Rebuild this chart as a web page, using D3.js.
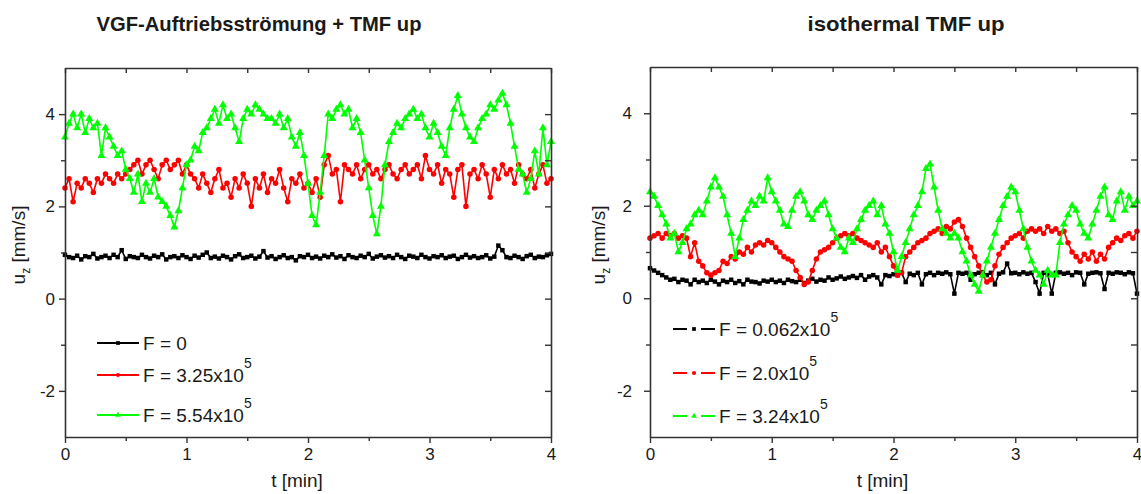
<!DOCTYPE html>
<html>
<head>
<meta charset="utf-8">
<script src="https://cdn.jsdelivr.net/npm/d3@7"></script>
<style>
  body { margin: 0; background: #fff; }
  text { font-family: "Liberation Sans", Arial, sans-serif; fill: #1a1a1a; }
</style>
</head>
<body>
<script>
// samples every 2 s over 4 minutes
const sampleStep = 2 / 60;
const tMin = d3.range(121).map(i => i * sampleStep);

const xTicks = [0, 1, 2, 3, 4];
const xMinor = [0.5, 1.5, 2.5, 3.5];
const yTicks = [-2, 0, 2, 4];
const yMinor = [-1, 1, 3];

const titles = ["VGF-Auftriebsströmung + TMF up", "isothermal TMF up"];
const vgfLegend = ["F = 0", "F = 3.25x10", "F = 5.54x10"];
const vgfLegendExp = ["", "5", "5"];
const isoLegend = ["F = 0.062x10", "F = 2.0x10", "F = 3.24x10"];
const isoLegendExp = ["5", "5", "5"];

// left panel: VGF buoyancy flow + TMF up, u_z [mm/s]
const vgfBlack = [
  0.95, 0.9, 0.88, 0.93, 0.85, 0.92, 0.9, 0.97, 0.87, 0.9,
  0.93, 0.88, 0.95, 0.9, 1.05, 0.86, 0.92, 0.9, 0.88, 0.95,
  0.9, 0.87, 0.93, 0.9, 0.96, 0.85, 0.9, 0.92, 0.88, 0.94,
  0.9, 0.86, 0.93, 0.89, 0.95, 1.0, 0.88, 0.91, 0.87, 0.93,
  0.9, 0.85, 0.92, 0.96, 0.88, 0.9, 0.93, 0.87, 0.91, 1.03,
  0.89, 0.92, 0.86, 0.9, 0.94, 0.88, 0.9, 0.83, 0.92, 0.9,
  0.95, 0.88, 0.91, 0.87, 0.93, 0.9, 0.96, 0.89, 0.92, 0.86,
  0.94, 0.9, 0.88, 0.93, 0.9, 0.97, 0.87, 0.91, 0.94, 0.89,
  0.92, 0.88, 0.95, 0.9, 0.86, 0.93, 0.91, 0.88, 0.95, 0.9,
  0.87, 0.92, 0.9, 0.94, 0.88, 0.91, 0.93, 0.86, 0.9, 0.95,
  0.89, 0.92, 0.88, 0.9, 0.94, 0.87, 0.91, 1.15, 1.05, 0.9,
  0.88, 0.93, 0.9, 0.86, 0.92, 0.95, 0.88, 0.91, 0.9, 0.94,
  0.97
];
const vgfRed = [
  2.4, 2.6, 2.1, 2.5, 2.4, 2.6, 2.5, 2.3, 2.6, 2.5,
  2.7, 2.6, 2.5, 2.7, 2.6, 2.7, 2.8, 2.9, 3.0, 2.7,
  2.9, 3.0, 2.8, 2.6, 2.9, 3.0, 2.8, 2.9, 3.0, 2.7,
  2.9, 2.7, 2.6, 2.4, 2.7, 2.5, 2.3, 2.6, 2.8, 2.4,
  2.5, 2.2, 2.6, 2.4, 2.7, 2.5, 2.0, 2.6, 2.4, 2.7,
  2.3, 2.6, 2.5, 2.8, 2.4, 2.1, 2.6, 2.5, 2.7, 2.4,
  2.5, 2.3, 2.6, 2.2, 2.9, 3.1, 2.7, 2.8, 2.1, 2.9,
  2.8, 2.7, 2.9, 2.6, 2.8, 2.9, 2.7, 2.8, 2.6, 2.8,
  2.9, 2.7, 2.6, 2.8, 2.9, 2.7, 2.8, 2.9, 2.6, 3.1,
  2.8, 2.7, 2.9, 2.5, 2.8, 2.7, 2.2, 2.8, 2.9, 2.0,
  2.7, 2.8, 2.6, 2.9, 2.7, 2.2, 2.8, 2.6, 2.9, 2.7,
  2.8, 2.5, 2.9, 2.7, 2.6, 2.8, 2.4, 2.7, 2.9, 2.5,
  2.6
];
const vgfGreen = [
  3.5, 3.8, 4.0, 3.7, 4.0, 3.6, 3.9, 3.7, 3.8, 3.1,
  3.7, 3.5, 3.3, 3.1, 3.2, 2.8, 2.6, 2.3, 2.7, 2.1,
  2.5, 2.3, 2.6, 2.2, 2.1, 2.0, 1.8, 1.55, 1.9, 2.4,
  2.9, 3.0, 3.3, 3.2, 3.6, 3.7, 3.9, 4.1, 3.8, 4.2,
  3.9, 4.0, 3.7, 3.4, 3.9, 4.1, 4.0, 4.2, 4.1, 4.0,
  3.9, 3.9, 3.8, 4.0, 3.7, 3.9, 3.5, 3.3, 3.6, 3.1,
  2.5, 1.8, 1.6, 2.3, 3.1, 4.0, 3.9, 4.1, 4.2, 4.0,
  4.1, 3.7, 3.9, 3.6, 3.0, 2.4, 1.8, 1.4, 2.0, 2.9,
  3.4, 3.6, 3.8, 3.7, 3.9, 4.0, 4.1, 3.9, 4.0, 3.7,
  3.5, 3.8, 3.6, 3.3, 3.1, 3.7, 4.1, 4.4, 4.0, 3.7,
  3.5, 3.4, 3.7, 3.9, 4.0, 4.2, 4.1, 4.3, 4.45, 4.2,
  3.8, 3.3, 2.8, 2.7, 2.3, 2.6, 3.2, 2.7, 3.7, 2.9,
  3.4
];

// right panel: isothermal TMF up
const isoBlack = [
  0.65, 0.6, 0.55, 0.5, 0.45, 0.4, 0.42, 0.35, 0.4, 0.38,
  0.3, 0.4, 0.35, 0.38, 0.33, 0.4, 0.36, 0.3, 0.38, 0.35,
  0.4, 0.33, 0.37, 0.3, 0.4, 0.36, 0.35, 0.32, 0.38, 0.36,
  0.4, 0.35, 0.38, 0.33, 0.4, 0.37, 0.35, 0.4, 0.33, 0.38,
  0.42, 0.36, 0.4, 0.38, 0.45, 0.4, 0.43, 0.47, 0.42, 0.45,
  0.48, 0.44, 0.5, 0.4, 0.47, 0.5, 0.45, 0.3, 0.5, 0.48,
  0.52, 0.5, 0.55, 0.35, 0.53, 0.5, 0.55, 0.3, 0.52, 0.55,
  0.5, 0.55, 0.53, 0.56, 0.52, 0.1, 0.55, 0.53, 0.55, 0.4,
  0.52, 0.55, 0.56, 0.5, 0.55, 0.3, 0.53, 0.56, 0.75, 0.54,
  0.55, 0.52, 0.56, 0.53, 0.55, 0.35, 0.1, 0.55, 0.52, 0.1,
  0.55, 0.56, 0.53, 0.55, 0.5, 0.56, 0.55, 0.3, 0.53, 0.55,
  0.56, 0.54, 0.2, 0.55, 0.53, 0.56, 0.55, 0.52, 0.56, 0.54,
  0.1
];
const isoRed = [
  1.3, 1.35, 1.4, 1.3, 1.4, 1.35, 1.4, 1.3, 1.35, 1.3,
  0.9, 1.2, 0.8, 0.7, 0.55, 0.5, 0.55, 0.6, 0.8, 0.75,
  0.9, 0.85, 1.0, 0.95, 1.1, 1.0, 1.15, 1.2, 1.15, 1.25,
  1.2, 1.1, 1.0, 0.9, 0.85, 0.8, 0.6, 0.45, 0.3, 0.35,
  0.6, 0.85, 1.0, 1.05, 1.1, 1.2, 1.3, 1.35, 1.4, 1.35,
  1.4, 1.3, 1.25, 1.2, 1.15, 1.1, 1.2, 1.0, 1.1, 0.9,
  0.7, 0.5, 0.55, 0.9, 1.0, 1.1, 1.2, 1.25, 1.3, 1.4,
  1.45, 1.5, 1.4, 1.55, 1.5, 1.65, 1.7, 1.55, 1.3, 1.1,
  0.9, 0.7, 0.5, 0.35, 0.4, 0.7, 0.95, 1.1, 1.2, 1.3,
  1.35, 1.4, 1.3, 1.45, 1.5, 1.45, 1.5, 1.4, 1.55, 1.45,
  1.5, 1.4, 1.45, 1.2, 1.0, 0.9, 0.8, 0.95, 0.85, 1.0,
  0.8, 0.95, 0.85, 1.1, 1.2, 1.3, 1.25, 1.35, 1.4, 1.3,
  1.45
];
const isoGreen = [
  2.3, 2.2, 2.0, 1.8, 1.6, 1.3, 1.4, 1.0, 1.2, 1.5,
  1.6, 1.8, 1.9, 1.8, 2.1, 2.4, 2.6, 2.4, 2.2, 1.8,
  1.4, 0.9, 1.3, 1.7, 1.9, 2.1, 2.0, 2.2, 2.1, 2.6,
  2.3, 2.1, 1.9, 1.6, 1.55, 1.9, 2.2, 2.3, 2.1, 1.8,
  1.7, 1.9, 2.0, 2.1, 1.8, 1.5, 1.3, 1.1, 1.0, 1.3,
  1.2, 1.5, 1.7, 1.9, 2.0, 2.1, 1.8, 2.0, 1.6, 1.4,
  1.0, 0.6, 0.9, 1.2, 1.5, 1.8, 2.0, 2.3, 2.8, 2.9,
  2.4, 1.9, 1.5, 1.4, 1.3, 1.4, 1.3, 1.0, 0.8, 0.5,
  0.3, 0.15, 0.5, 0.8, 1.1, 1.4, 1.7, 2.0, 2.2, 2.4,
  2.3, 1.9, 1.5, 1.1, 0.8, 0.6, 0.5, 0.3, 0.6, 0.5,
  0.5, 1.2, 1.6, 1.8, 2.0, 1.9, 1.6, 1.4, 1.3, 1.6,
  1.9, 2.2, 2.4, 1.8, 1.7, 2.1, 2.3, 1.9, 2.2, 2.0,
  2.1
];

const colors = ['#000000', '#ff0000', '#00ff00'];
const symbols = [d3.symbolSquare, d3.symbolCircle, d3.symbolTriangle];
const symSize = [20, 24, 28];
const axisColor = '#333';

const svg = d3.select('body').append('svg')
  .attr('width', 1141)
  .attr('height', 494);

const panels = [
  { x0: 65, x1: 551, y0: 68, y1: 437, title: titles[0], titleX: 259, titleLen: 325,
    series: [vgfBlack, vgfRed, vgfGreen], labels: vgfLegend, exps: vgfLegendExp,
    tickPad: 4, yLabelX: 25, legendX: 97, legendY: [343, 375, 415], dashed: false },
  { x0: 650, x1: 1137, y0: 67, y1: 437, title: titles[1], titleX: 906, titleLen: 197,
    series: [isoBlack, isoRed, isoGreen], labels: isoLegend, exps: isoLegendExp,
    tickPad: 12, yLabelX: 605, legendX: 673, legendY: [329, 373, 416], dashed: true }
];

function styleAxis(sel) {
  sel.select('.domain').attr('stroke', axisColor).attr('stroke-width', 1.6);
  sel.selectAll('.tick line').attr('stroke', axisColor).attr('stroke-width', 1.4);
  sel.selectAll('.tick text')
    .attr('font-size', 17)
    .attr('font-family', '"Liberation Sans", Arial, sans-serif')
    .attr('fill', '#1a1a1a');
}
function minorOnly(sel) {
  sel.select('.domain').remove();
  sel.selectAll('.tick line').attr('stroke', axisColor).attr('stroke-width', 1.4);
}

const fmtY = d => d < 0 ? '-' + Math.abs(d) : String(d);

panels.forEach(p => {
  const x = d3.scaleLinear().domain([0, 4]).range([p.x0, p.x1]);
  const y = d3.scaleLinear().domain([-3, 5]).range([p.y1, p.y0]);
  const g = svg.append('g');

  // data
  p.series.forEach((vals, k) => {
    const pts = vals.map((v, i) => [tMin[i], v]);
    g.append('path')
      .datum(pts)
      .attr('d', d3.line().x(d => x(d[0])).y(d => y(d[1])))
      .attr('fill', 'none')
      .attr('stroke', colors[k])
      .attr('stroke-width', 1.6);
    g.append('g').selectAll('path')
      .data(pts)
      .join('path')
      .attr('transform', d => `translate(${x(d[0])},${y(d[1])})`)
      .attr('d', d3.symbol(symbols[k], symSize[k]))
      .attr('fill', colors[k]);
  });

  // axes: bottom/left outward, top/right inward
  g.append('g').attr('transform', `translate(0,${p.y1})`)
    .call(d3.axisBottom(x).tickValues(xTicks).tickSize(6).tickSizeOuter(0).tickPadding(5).tickFormat(d3.format('d')))
    .call(styleAxis);
  g.append('g').attr('transform', `translate(0,${p.y1})`)
    .call(d3.axisBottom(x).tickValues(xMinor).tickSize(4).tickFormat(''))
    .call(minorOnly);
  g.append('g').attr('transform', `translate(0,${p.y0})`)
    .call(d3.axisBottom(x).tickValues(xTicks.concat(xMinor)).tickSize(5).tickSizeOuter(0).tickFormat(''))
    .call(styleAxis);

  g.append('g').attr('transform', `translate(${p.x0},0)`)
    .call(d3.axisLeft(y).tickValues(yTicks).tickSize(6).tickSizeOuter(0).tickPadding(p.tickPad).tickFormat(fmtY))
    .call(styleAxis);
  g.append('g').attr('transform', `translate(${p.x0},0)`)
    .call(d3.axisLeft(y).tickValues(yMinor).tickSize(4).tickFormat(''))
    .call(minorOnly);
  g.append('g').attr('transform', `translate(${p.x1},0)`)
    .call(d3.axisLeft(y).tickValues(yTicks.concat(yMinor)).tickSize(6).tickSizeOuter(0).tickFormat(''))
    .call(styleAxis);

  // title
  g.append('text')
    .attr('x', p.titleX)
    .attr('y', 31)
    .attr('text-anchor', 'middle')
    .attr('font-size', 21)
    .attr('font-weight', 'bold')
    .attr('textLength', p.titleLen)
    .attr('lengthAdjust', 'spacingAndGlyphs')
    .text(p.title);

  // axis titles
  g.append('text')
    .attr('x', (p.x0 + p.x1) / 2 - 11)
    .attr('y', 487)
    .attr('text-anchor', 'middle')
    .attr('font-size', 19)
    .text('t [min]');

  const yl = g.append('text')
    .attr('transform', `translate(${p.yLabelX},245) rotate(-90)`)
    .attr('text-anchor', 'middle')
    .attr('font-size', 19);
  yl.append('tspan').text('u');
  yl.append('tspan').attr('dy', 5).attr('font-size', 12).text('z');
  yl.append('tspan').attr('dy', -5).text(' [mm/s]');

  // legend
  p.labels.forEach((lab, k) => {
    const ly = p.legendY[k];
    g.append('line')
      .attr('x1', p.legendX).attr('x2', p.legendX + 42)
      .attr('y1', ly).attr('y2', ly)
      .attr('stroke', colors[k])
      .attr('stroke-width', 1.8)
      .attr('stroke-dasharray', p.dashed ? '14,14' : null);
    g.append('path')
      .attr('transform', `translate(${p.legendX + 21},${ly})`)
      .attr('d', d3.symbol(symbols[k], 14))
      .attr('fill', colors[k]);
    const t = g.append('text')
      .attr('x', p.legendX + 46)
      .attr('y', ly + 7)
      .attr('font-size', 19)
      .text(lab);
    if (p.exps[k]) {
      t.append('tspan').attr('dy', -14).attr('font-size', 14).text(p.exps[k]);
    }
  });
});
</script>
</body>
</html>
